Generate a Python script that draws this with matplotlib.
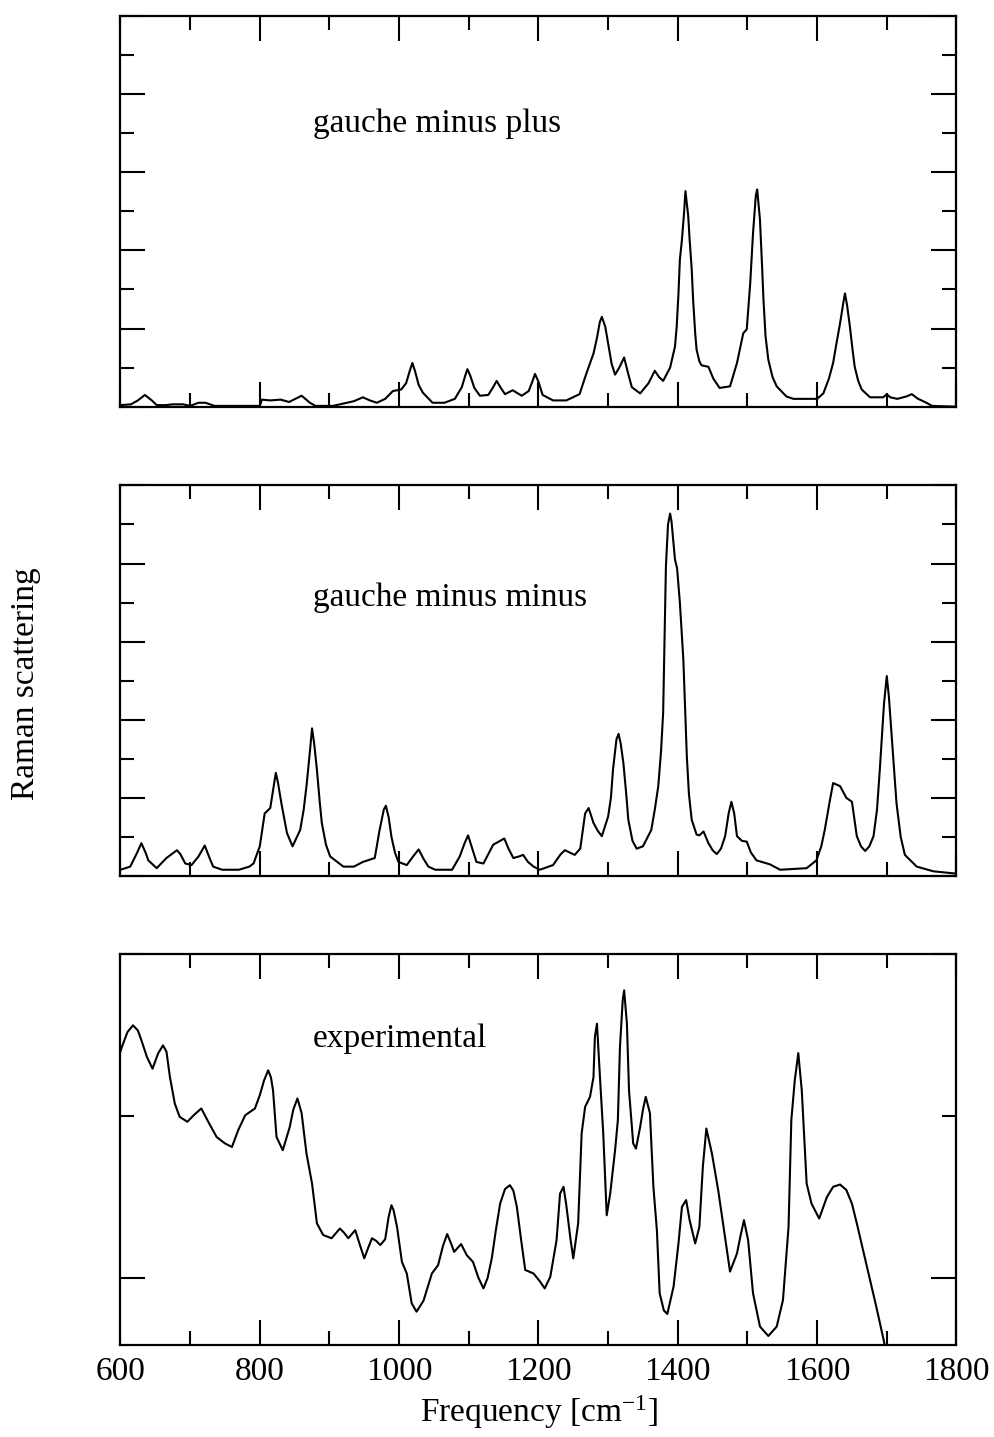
import numpy as np
import matplotlib
matplotlib.use("Agg")
import matplotlib.pyplot as plt
from matplotlib.ticker import MultipleLocator

# ---------------------------------------------------------------------------
# Data (x in cm^-1, y in axis tick units)
# ---------------------------------------------------------------------------
plus_x = [600, 615, 625, 635, 645, 652, 665, 675, 690, 700, 712, 722, 735, 800,
          803, 815, 830, 842, 860, 872, 880, 905, 915, 935, 948, 958, 968, 980,
          991, 1003, 1010, 1015, 1019, 1023, 1028, 1034, 1048, 1065, 1080, 1090,
          1095, 1098, 1102, 1108, 1116, 1128, 1135, 1140, 1146, 1152, 1163, 1176,
          1186, 1192, 1195, 1200, 1206, 1221, 1240, 1259, 1269, 1279, 1284, 1288,
          1291, 1296, 1300, 1305, 1310, 1316, 1323, 1328, 1334, 1346, 1358, 1367,
          1373, 1379, 1389, 1396, 1398.5, 1401, 1403, 1406, 1409, 1411, 1415,
          1417, 1420, 1422, 1425, 1427, 1431, 1434, 1444, 1451, 1460, 1475, 1485,
          1494, 1499, 1504, 1508, 1512, 1514, 1518, 1521, 1523, 1526, 1530, 1536,
          1542, 1556, 1566, 1600, 1609, 1617, 1623, 1628, 1633, 1638, 1640, 1643,
          1647, 1651, 1654, 1659, 1664, 1676, 1695, 1700, 1705, 1715, 1728, 1736,
          1745, 1757, 1765, 1800]
plus_y = [0.02, 0.03, 0.08, 0.15, 0.08, 0.02, 0.02, 0.03, 0.03, 0.01, 0.05, 0.05,
          0.01, 0.01, 0.09, 0.08, 0.09, 0.06, 0.14, 0.05, 0.01, 0.01, 0.03, 0.07,
          0.12, 0.08, 0.05, 0.10, 0.20, 0.22, 0.30, 0.45, 0.56, 0.45, 0.28, 0.18,
          0.05, 0.05, 0.10, 0.25, 0.40, 0.48, 0.40, 0.24, 0.14, 0.15, 0.25, 0.33,
          0.24, 0.16, 0.21, 0.14, 0.20, 0.34, 0.42, 0.32, 0.15, 0.08, 0.08, 0.16,
          0.43, 0.68, 0.88, 1.08, 1.15, 1.02, 0.81, 0.55, 0.41, 0.50, 0.63, 0.45,
          0.25, 0.17, 0.30, 0.46, 0.38, 0.33, 0.50, 0.77, 1.03, 1.45, 1.88, 2.14,
          2.48, 2.76, 2.44, 2.14, 1.76, 1.37, 0.94, 0.73, 0.58, 0.53, 0.51, 0.36,
          0.24, 0.26, 0.56, 0.94, 0.99, 1.58, 2.22, 2.70, 2.78, 2.39, 1.80, 1.37,
          0.90, 0.60, 0.38, 0.26, 0.13, 0.10, 0.10, 0.17, 0.36, 0.56, 0.82, 1.07,
          1.35, 1.45, 1.30, 1.03, 0.72, 0.51, 0.33, 0.22, 0.12, 0.12, 0.16, 0.12,
          0.10, 0.13, 0.16, 0.10, 0.05, 0.01, 0.00]

minus_x = [600, 614, 624, 630, 636, 640, 652, 666, 681, 686, 693, 702, 712, 721,
           727, 733, 746, 770, 785, 791, 800, 807, 815, 820, 823, 826, 831, 839,
           847, 858, 863, 867, 872, 875, 878, 882, 886, 889, 895, 901, 920, 935,
           948, 965, 972, 978, 981, 985, 989, 994, 999, 1011, 1020, 1028, 1035,
           1042, 1052, 1076, 1087, 1094, 1099, 1104, 1111, 1121, 1135, 1145, 1151,
           1157, 1164, 1172, 1178, 1185, 1193, 1202, 1221, 1232, 1238, 1245, 1252,
           1260, 1267, 1272, 1279, 1285, 1291, 1300, 1304, 1307, 1312, 1315, 1318,
           1322, 1326, 1329, 1335, 1341, 1350, 1362, 1367, 1372, 1376, 1379, 1383,
           1386, 1389, 1391, 1396, 1399, 1403, 1408, 1413, 1416, 1420, 1427, 1431,
           1437, 1444, 1450, 1456, 1462, 1468, 1473, 1477, 1481, 1485, 1492, 1499,
           1505, 1513, 1532, 1547, 1585, 1599, 1606, 1611, 1618, 1623, 1633, 1642,
           1650, 1654, 1657, 1663, 1669, 1675, 1681, 1686, 1690, 1696, 1700, 1703,
           1707, 1711, 1714, 1720, 1726, 1743, 1767, 1800]
minus_y = [0.08, 0.12, 0.30, 0.42, 0.30, 0.20, 0.10, 0.23, 0.33, 0.28, 0.16, 0.14,
           0.25, 0.39, 0.25, 0.12, 0.08, 0.08, 0.12, 0.16, 0.38, 0.80, 0.87, 1.15,
           1.32, 1.20, 0.93, 0.55, 0.38, 0.59, 0.85, 1.15, 1.60, 1.89, 1.70, 1.36,
           0.95, 0.68, 0.40, 0.25, 0.12, 0.12, 0.18, 0.23, 0.59, 0.85, 0.90, 0.75,
           0.50, 0.30, 0.18, 0.14, 0.25, 0.34, 0.22, 0.12, 0.08, 0.08, 0.25, 0.42,
           0.52, 0.38, 0.18, 0.16, 0.40, 0.45, 0.48, 0.35, 0.23, 0.25, 0.27, 0.18,
           0.12, 0.08, 0.14, 0.28, 0.33, 0.30, 0.27, 0.35, 0.80, 0.87, 0.68, 0.58,
           0.51, 0.76, 1.00, 1.36, 1.75, 1.82, 1.70, 1.44, 1.05, 0.72, 0.45, 0.35,
           0.38, 0.59, 0.85, 1.15, 1.60, 2.09, 3.97, 4.50, 4.64, 4.54, 4.05, 3.94,
           3.50, 2.77, 1.53, 1.05, 0.72, 0.53, 0.52, 0.57, 0.42, 0.33, 0.28, 0.35,
           0.51, 0.80, 0.95, 0.80, 0.51, 0.45, 0.44, 0.30, 0.20, 0.15, 0.08, 0.10,
           0.20, 0.38, 0.59, 0.95, 1.19, 1.15, 1.00, 0.95, 0.70, 0.51, 0.38, 0.32,
           0.38, 0.51, 0.85, 1.36, 2.20, 2.56, 2.30, 1.79, 1.30, 0.93, 0.50, 0.27,
           0.12, 0.06, 0.03]

exp_x = [600, 602, 610, 618, 625, 630, 638, 646, 654, 661, 666, 671, 678, 685,
         696, 706, 716, 726, 738, 750, 760, 769, 779, 793, 800, 806, 812, 816,
         819, 824, 833, 843, 848, 854, 860, 867, 875, 882, 891, 903, 915, 921,
         927, 937, 944, 950, 955, 961, 967, 973, 980, 985, 989, 992, 997, 1004,
         1011, 1018, 1025, 1035, 1047, 1056, 1063, 1069, 1074, 1079, 1089, 1097,
         1106, 1114, 1121, 1127, 1133, 1139, 1145, 1152, 1159, 1164, 1169, 1175,
         1181, 1193, 1202, 1209, 1217, 1226, 1231, 1236, 1240, 1246, 1250, 1257,
         1262, 1267, 1274, 1279, 1281, 1284, 1288, 1293, 1298, 1303, 1310, 1314,
         1317, 1321, 1323, 1327, 1330, 1336, 1340, 1346, 1350, 1354, 1360, 1365,
         1370, 1374, 1380, 1385, 1394, 1401, 1406, 1412, 1417, 1425, 1431, 1436,
         1441, 1449, 1458, 1465, 1475, 1485, 1490, 1495, 1501, 1508, 1518, 1530,
         1542, 1551, 1559, 1563, 1568, 1573, 1578, 1585, 1592, 1603, 1614, 1623,
         1633, 1642, 1650, 1657, 1666, 1676, 1685, 1695, 1700]
exp_y = [0.700, 0.714, 0.760, 0.781, 0.765, 0.735, 0.683, 0.647, 0.694, 0.719,
         0.700, 0.621, 0.539, 0.498, 0.483, 0.505, 0.524, 0.483, 0.436, 0.416,
         0.405, 0.457, 0.503, 0.524, 0.565, 0.610, 0.642, 0.620, 0.580, 0.436,
         0.395, 0.467, 0.520, 0.555, 0.510, 0.385, 0.292, 0.169, 0.133, 0.123,
         0.153, 0.140, 0.123, 0.148, 0.100, 0.061, 0.090, 0.123, 0.115, 0.102,
         0.120, 0.190, 0.225, 0.210, 0.158, 0.050, 0.014, -0.078, -0.104, -0.070,
         0.014, 0.040, 0.100, 0.136, 0.110, 0.081, 0.105, 0.071, 0.050, 0.000,
         -0.032, 0.000, 0.061, 0.150, 0.230, 0.275, 0.287, 0.270, 0.220, 0.120,
         0.025, 0.014, -0.010, -0.032, 0.004, 0.117, 0.261, 0.282, 0.225, 0.120,
         0.061, 0.169, 0.447, 0.529, 0.560, 0.621, 0.745, 0.786, 0.632, 0.447,
         0.194, 0.261, 0.395, 0.488, 0.714, 0.860, 0.889, 0.786, 0.580, 0.416,
         0.400, 0.467, 0.520, 0.560, 0.510, 0.282, 0.148, -0.047, -0.100, -0.111,
         -0.026, 0.107, 0.220, 0.241, 0.179, 0.107, 0.158, 0.344, 0.462, 0.385,
         0.272, 0.169, 0.020, 0.076, 0.130, 0.179, 0.117, -0.047, -0.150, -0.179,
         -0.150, -0.068, 0.158, 0.488, 0.612, 0.695, 0.580, 0.292, 0.230, 0.184,
         0.250, 0.282, 0.289, 0.272, 0.230, 0.169, 0.086, -0.006, -0.089, -0.186,
         -0.240]

panels = [
    (plus_x, plus_y, "gauche minus plus", (0, 5), 3.51),
    (minus_x, minus_y, "gauche minus minus", (0, 5), 3.45),
    (exp_x, exp_y, "experimental", (-0.207, 1.0), 0.714),
]

#=============================================================================#
# Figure
#=============================================================================#
plt.rcParams['font.family'] = 'serif'
plt.rcParams['font.serif'] = ['Liberation Serif', 'DejaVu Serif']
plt.rcParams['mathtext.fontset'] = 'custom'
plt.rcParams['mathtext.rm'] = 'Liberation Serif'
plt.rcParams['mathtext.it'] = 'Liberation Serif:italic'

fig = plt.figure(figsize=(9.94, 14.37), dpi=100)
bottoms = [0.717, 0.3904, 0.064]
fs = 24

axes = []
for (xs, ys, label, ylim, ty), b in zip(panels, bottoms):
    ax = fig.add_axes([0.1212, b, 0.841, 0.2718])
    ax.plot(xs, ys, color='black', lw=1.5)
    ax.set_xlim(600, 1800)
    ax.set_ylim(*ylim)
    ax.text(876, ty, label, fontsize=fs, ha='left', va='baseline')
    ax.xaxis.set_major_locator(MultipleLocator(200))
    ax.xaxis.set_minor_locator(MultipleLocator(100))
    if ylim[1] > 2:
        ax.yaxis.set_major_locator(MultipleLocator(1))
        ax.yaxis.set_minor_locator(MultipleLocator(0.5))
    else:
        ax.set_yticks([0, 1])
        ax.set_yticks([0.5], minor=True)
    ax.tick_params(which='both', direction='in', top=True, right=True,
                   width=1.5, labelleft=False, labelbottom=False)
    ax.tick_params(which='major', length=18)
    ax.tick_params(which='minor', length=10)
    for sp in ax.spines.values():
        sp.set_linewidth(1.6)
    axes.append(ax)

axes[-1].tick_params(labelbottom=True, labelsize=fs, pad=8)
axes[-1].set_xlabel("Frequency [cm$^{\\mathregular{-1}}$]", fontsize=fs, labelpad=5)

fig.text(0.026, 0.524, "Raman scattering", rotation=90, fontsize=fs,
         ha='center', va='center')

fig.savefig('out.png', dpi=100)
